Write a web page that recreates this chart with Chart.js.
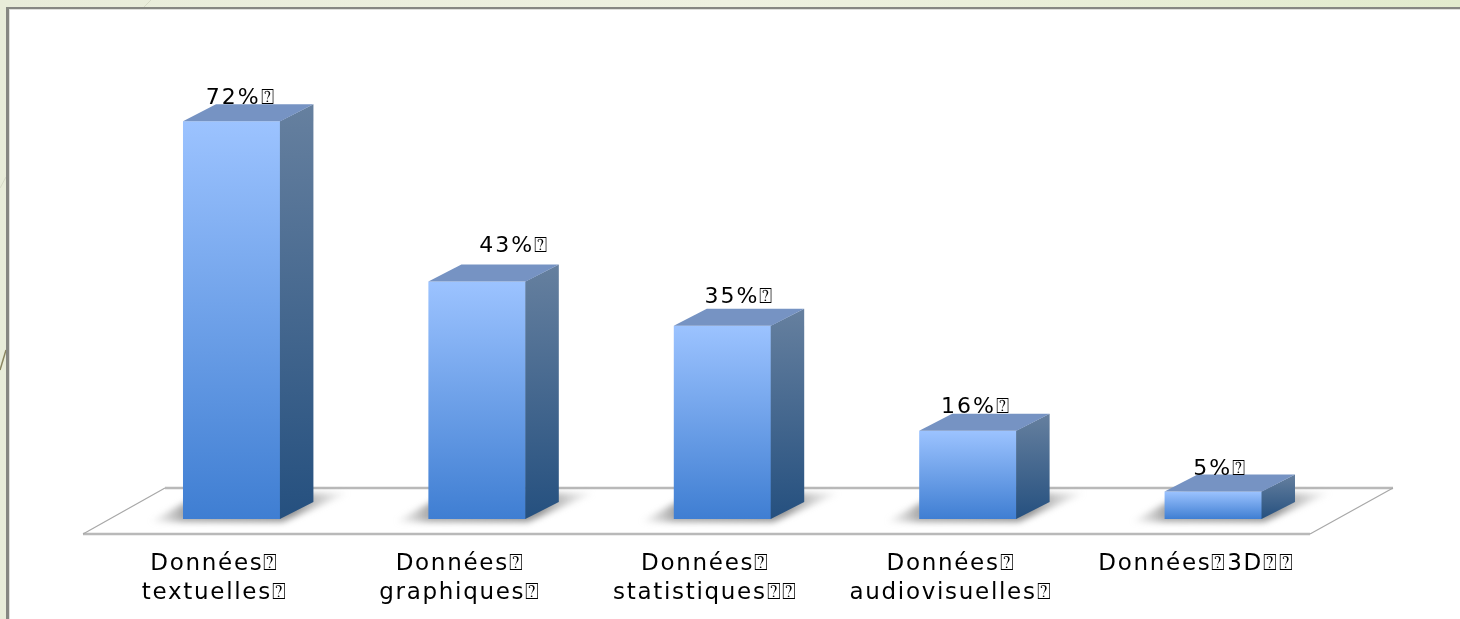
<!DOCTYPE html>
<html><head><meta charset="utf-8">
<style>html,body{margin:0;padding:0;background:#fff}canvas{display:block}#w{width:1460px;height:619px}</style>
<script src="https://cdn.jsdelivr.net/npm/chart.js@4"></script>
</head><body><div id="w"><canvas id="c" width="1460" height="619"></canvas></div>
<script>
const categories = [["Données⍰","textuelles⍰"],["Données⍰","graphiques⍰"],["Données⍰","statistiques⍰⍰"],["Données⍰","audiovisuelles⍰"],["Données⍰3D⍰⍰"]];
const values = [72,43,35,16,5];
const valueLabels = ["72%⍰","43%⍰","35%⍰","16%⍰","5%⍰"];
const labelShiftX = [9,37,17,8,7];
const labelGapY = [23,35,28,23,22];
const DX=33, DY=17;
const FONT='"DejaVu Sans"';

function grad(ctx,y0,y1,a,b){const g=ctx.createLinearGradient(0,y0,0,y1);g.addColorStop(0,a);g.addColorStop(1,b);return g;}
function poly(ctx,p){ctx.beginPath();p.forEach((q,i)=>i?ctx.lineTo(q[0],q[1]):ctx.moveTo(q[0],q[1]));ctx.closePath();}

const panel={id:'panel',beforeDraw(ch){
  const c=ch.ctx,W=ch.width,H=ch.height;c.save();
  const g=c.createLinearGradient(0,0,W,0);g.addColorStop(0,'#e8ecd9');g.addColorStop(.5,'#eef1e0');g.addColorStop(1,'#e2ebcd');
  c.fillStyle=g;c.fillRect(0,0,W,H);
  c.lineWidth=1;
  c.strokeStyle='#d6dac6';
  c.beginPath();c.moveTo(151,0);c.lineTo(144,7);c.moveTo(6,177);c.lineTo(0,188);c.stroke();
  c.strokeStyle='#8a8560';c.lineWidth=1.5;
  c.beginPath();c.moveTo(6,350);c.lineTo(0,370);c.stroke();
  c.fillStyle='#dfe0dc';c.fillRect(9,9,W-9,H-9);
  c.fillStyle='#fff';c.fillRect(10,10,W-10,H-10);
  c.fillStyle='#868782';c.fillRect(6,7,W-6,2);c.fillRect(6,7,3,H-7);
  c.restore();
  c.letterSpacing='1.7px';
}};
const floor={id:'floor',beforeDatasetsDraw(ch){
  const c=ch.ctx,m=ch.getDatasetMeta(0).data,base=ch.scales.y.getPixelForValue(0);
  const x0=ch.chartArea.left,x1=ch.chartArea.right;
  const back=base-31,front=base+15;
  c.save();
  c.strokeStyle='#b9b9b9';c.lineWidth=2.5;
  c.beginPath();c.moveTo(x0+56,back);c.lineTo(x1+57,back);c.stroke();
  c.beginPath();c.moveTo(x0-26,front);c.lineTo(x1-26,front);c.stroke();
  c.lineWidth=1.2;c.strokeStyle='#a8a8a8';
  c.beginPath();c.moveTo(x0+56,back);c.lineTo(x0-26,front);c.moveTo(x1+57,back);c.lineTo(x1-26,front);c.stroke();
  m.forEach(b=>{
    const l=b.x-b.width/2,r=b.x+b.width/2;
    c.save();c.filter='blur(3px)';
    const s=c.createLinearGradient(l-34,0,r+70,0);
    s.addColorStop(0,'rgba(150,150,150,0)');s.addColorStop(.17,'rgba(110,110,110,.6)');
    s.addColorStop(.72,'rgba(110,110,110,.75)');s.addColorStop(1,'rgba(170,170,170,.05)');
    c.fillStyle=s;
    poly(c,[[l-34,base+3],[r+2,base+3],[r+68,base-26],[l+20,base-26]]);c.fill();
    c.restore();
  });
  c.restore();
}};
const sides={id:'sides',afterDatasetsDraw(ch){
  const c=ch.ctx,m=ch.getDatasetMeta(0).data;
  c.save();
  m.forEach((b,i)=>{
    const l=b.x-b.width/2,r=b.x+b.width/2,t=b.y,bt=b.base;
    c.fillStyle=grad(c,t-DY,bt,'#66809f','#25507f');
    poly(c,[[r-0.5,t],[r+DX,t-DY],[r+DX,bt-DY],[r-0.5,bt]]);c.fill();
    c.fillStyle='#7693c3';
    poly(c,[[l,t],[l+DX,t-DY],[r+DX,t-DY],[r,t]]);c.fill();
    c.fillStyle='#000';c.font='22px '+FONT;c.textAlign='center';c.textBaseline='middle';c.letterSpacing='2px';
    c.fillText(valueLabels[i],b.x+labelShiftX[i],t-labelGapY[i]);
  });
  c.restore();
}};
new Chart(document.getElementById('c'),{
  type:'bar',
  data:{labels:categories,datasets:[{data:values,borderWidth:0,
    backgroundColor(ctx){
      const a=ctx.chart.chartArea; if(!a)return '#6fa0e8';
      const y1=ctx.chart.scales.y.getPixelForValue(0),y0=ctx.chart.scales.y.getPixelForValue(values[ctx.dataIndex]);
      return grad(ctx.chart.ctx,y0,y1,'#9cc3ff','#3f7ed2');
    }}]},
  options:{responsive:false,animation:false,
    layout:{padding:{left:109,right:124,top:77,bottom:-12}},
    plugins:{legend:{display:false},tooltip:{enabled:false}},
    scales:{
      x:{grid:{display:false},border:{display:false},
        ticks:{color:'#000',font:{family:FONT,size:23,lineHeight:1.26},padding:23,labelOffset:-17,maxRotation:0,minRotation:0,autoSkip:false}},
      y:{display:false,min:0,max:80}
    },
    datasets:{bar:{categoryPercentage:1,barPercentage:0.397}}
  },
  plugins:[panel,floor,sides]
});
</script></body></html>
